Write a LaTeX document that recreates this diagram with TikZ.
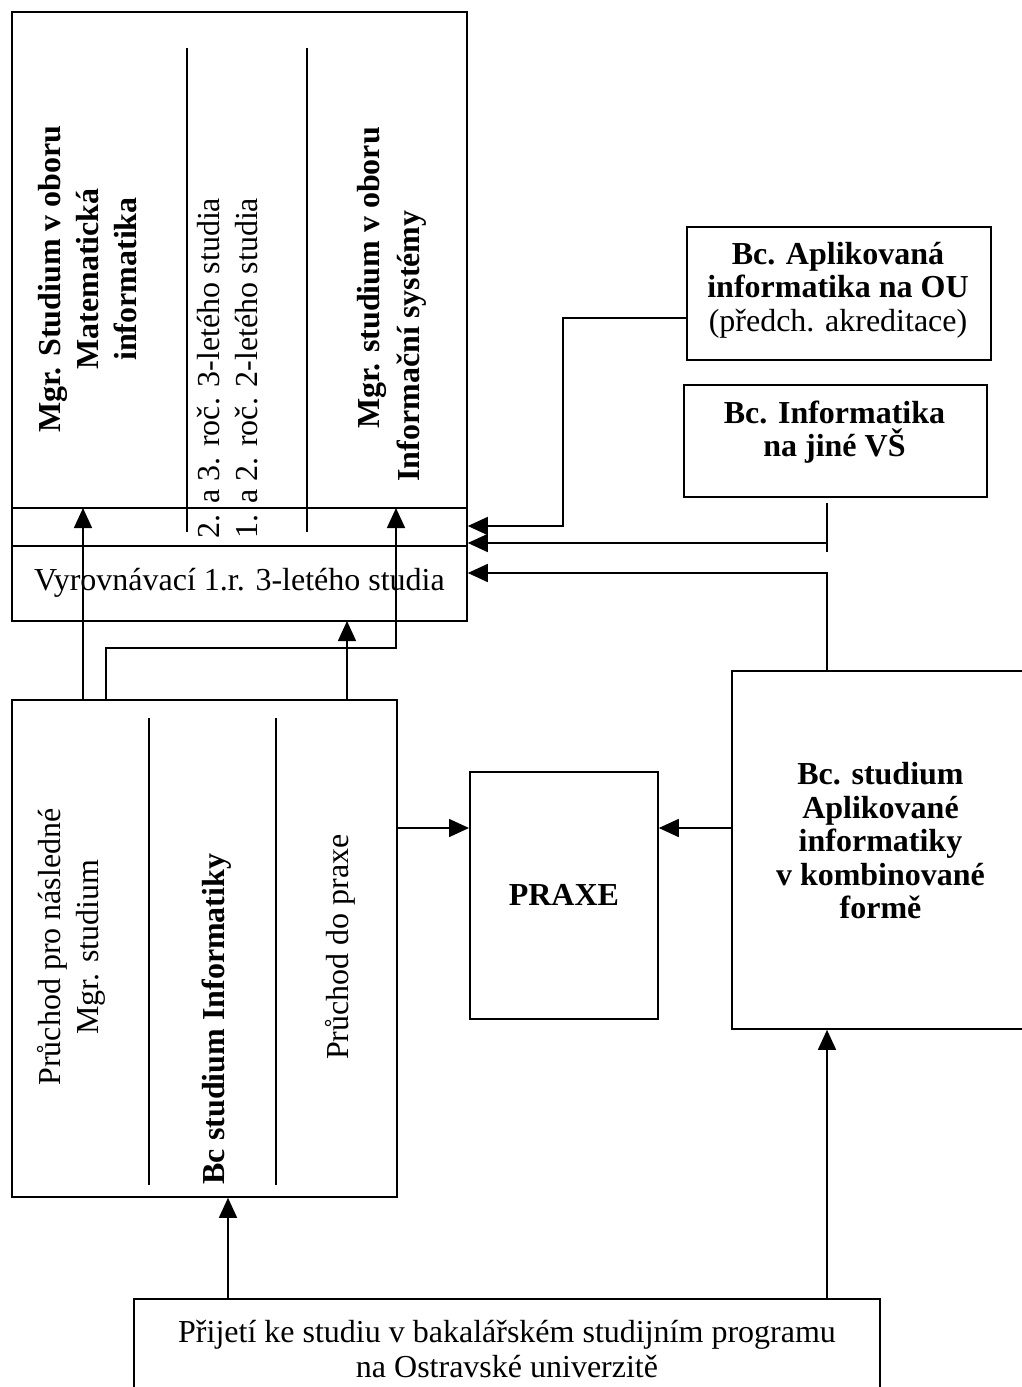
\documentclass[tikz,border=0pt]{standalone}
\usepackage{fontspec}
\setmainfont{Liberation Serif}
\usetikzlibrary{arrows.meta}
\begin{document}
\begin{tikzpicture}[x=1pt,y=1pt,
  txt/.style={font=\fontsize{32}{33.5}\selectfont, align=center, inner sep=0pt},
  btxt/.style={font=\fontsize{32}{33.5}\selectfont\bfseries, align=center, inner sep=0pt},
  rtxt/.style={font=\fontsize{32}{38}\selectfont, align=center, inner sep=0pt, rotate=90},
  rbtxt/.style={font=\fontsize{32}{38}\selectfont\bfseries, align=center, inner sep=0pt, rotate=90},
  box/.style={draw, line width=1.8pt, inner sep=0pt, anchor=north west},
  conn/.style={line width=1.6pt},
  arr/.style={conn, -{Triangle[length=20pt,width=18pt]}},
  divider/.style={line width=1.4pt}]

\useasboundingbox (0,0) rectangle (1022,-1387);

% ---------- top box (Mgr.) ----------
\node[box, minimum width=455pt, minimum height=609pt] (mgr) at (11,-11) {};
\draw[conn] (11,-508) -- (466,-508);
\draw[conn] (11,-546) -- (466,-546);
\draw[divider] (187,-48) -- (187,-532);
\draw[divider] (307,-48) -- (307,-532);
\node[rbtxt] (mgrMI) at (88,-279) {Mgr. Studium v oboru\\Matematická\\informatika};
\node[rtxt] (years) at (227.5,-368) {2. a 3. roč. 3-letého studia\\1. a 2. roč. 2-letého studia};
\node[rbtxt] (mgrIS1) at (372,-278) {Mgr. studium v oboru};
\node[rbtxt] (mgrIS2) at (412,-346) {Informační systémy};
\node[txt] (vyr) at (239.5,-583) {Vyrovnávací 1.r. 3-letého studia};

% ---------- bottom-left box (Bc) ----------
\node[box, minimum width=385pt, minimum height=497pt] (bc) at (11,-699) {};
\draw[divider] (149,-718) -- (149,-1185);
\draw[divider] (276,-718) -- (276,-1185);
\node[rtxt] (pruchod1) at (71,-947) {Průchod pro následné\\Mgr. studium};
\node[rbtxt] (bcinf) at (217,-1019) {Bc studium Informatiky};
\node[rtxt] (pruchod2) at (340,-947) {Průchod do praxe};

% ---------- PRAXE ----------
\node[box, minimum width=188pt, minimum height=247pt, font=\fontsize{32}{33.5}\selectfont\bfseries] (praxe) at (469,-771) {PRAXE};

% ---------- right box ----------
\node[box, minimum width=299pt, minimum height=358pt] (rb) at (731,-670) {};
\node[btxt] (rbtext) at (880.5,-841) {Bc. studium\\Aplikované\\informatiky\\v kombinované\\formě};

% ---------- Bc. Aplikovana ----------
\node[box, minimum width=304pt, minimum height=133pt] (apl) at (686,-226) {};
\node[txt] (apltext) at (838,-290) {\textbf{Bc. Aplikovaná}\\\textbf{informatika na OU}\\(předch. akreditace)};

% ---------- Bc. Informatika ----------
\node[box, minimum width=303pt, minimum height=112pt] (jvs) at (683,-384) {};
\node[btxt] (jvstext) at (834.5,-432) {Bc. Informatika\\na jiné VŠ};

% ---------- bottom box ----------
\node[box, minimum width=746pt, minimum height=110pt] (prij) at (133,-1298) {};
\node[txt, font=\fontsize{32}{35}\selectfont] (prijtext) at (507,-1349) {Přijetí ke studiu v bakalářském studijním programu\\na Ostravské univerzitě};

% ---------- coordinates ----------
\coordinate (a1) at (83,-508);
\coordinate (a2) at (396,-508);
\coordinate (b1) at (106,-648);
\coordinate (b2) at (396,-648);
\coordinate (a3) at (347,-621);
\coordinate (pr) at (0,-828);
\coordinate (c1) at (563,-318);
\coordinate (c2) at (563,-526);
\coordinate (t1) at (827,-503);
\coordinate (t2) at (827,-552);
\coordinate (t3) at (827,-543);
\coordinate (d1) at (827,-573);
\coordinate (e1) at (228,0);
\coordinate (e2) at (827,0);

% ---------- connectors ----------
\draw[arr] (bc.north -| a1) -- (a1);
\draw[arr] (bc.north -| b1) -- (b1) -- (b2) -- (a2);
\draw[arr] (bc.north -| a3) -- (a3);
\draw[arr] (bc.east |- pr) -- (praxe.west |- pr);
\draw[arr] (rb.west |- pr) -- (praxe.east |- pr);
\draw[arr] (apl.west |- c1) -- (c1) -- (c2) -- (mgr.east |- c2);
\draw[conn] (t1) -- (t2);
\draw[arr] (t3) -- (mgr.east |- t3);
\draw[arr] (rb.north -| d1) -- (d1) -- (mgr.east |- d1);
\draw[arr] (prij.north -| e1) -- (bc.south -| e1);
\draw[arr] (prij.north -| e2) -- (rb.south -| e2);
\end{tikzpicture}
\end{document}
